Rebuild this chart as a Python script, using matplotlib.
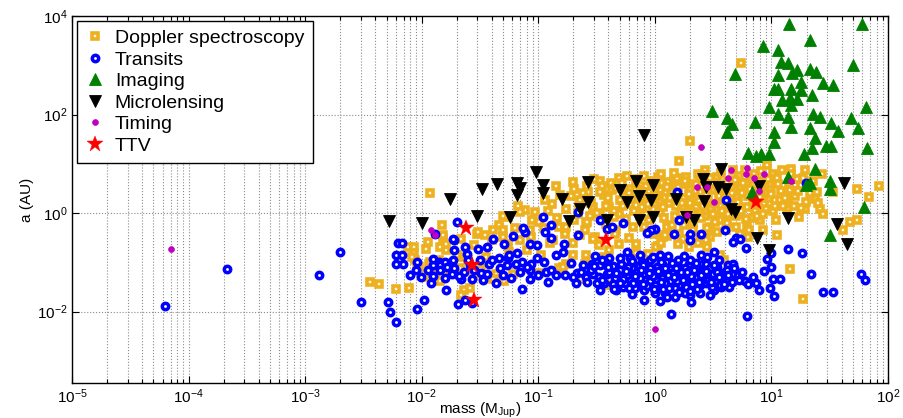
import numpy as np
import matplotlib
matplotlib.use('Agg')
import matplotlib.pyplot as plt
from matplotlib.ticker import FixedLocator, NullLocator

plt.rcParams['font.family'] = ['Liberation Sans', 'DejaVu Sans']
plt.rcParams['mathtext.fontset'] = 'custom'
plt.rcParams['mathtext.rm'] = 'Liberation Sans'
plt.rcParams['mathtext.it'] = 'Liberation Sans:italic'
plt.rcParams['mathtext.bf'] = 'Liberation Sans:bold'

# planets as (log10 mass [M_Jup], log10 semi-major axis [AU])
doppler = [
    (-2.44, -1.40), (-2.37, -1.45), (-2.22, -1.55), (-2.11, -1.53), (-1.93, 0.41),
    (-2.12, -0.69), (-2.07, -0.68), (-2.07, -0.81), (-1.95, -0.59), (-1.96, -0.72),
    (-1.83, -0.25), (-1.82, -0.50), (-1.79, -0.76), (-2.06, -0.96), (-2.04, -1.13),
    (-1.84, -1.37), (-1.94, -1.03), (-2.08, -0.89), (-1.84, -0.68), (-1.79, -0.62),
    (-1.66, -0.52), (-1.67, -0.89), (-1.67, -1.11), (-1.60, -0.96), (-1.53, -0.42),
    (-1.46, -0.45), (-1.30, -0.49), (-1.26, -0.62), (-1.16, -0.55), (-1.10, -0.76),
    (-1.06, -0.49), (-0.99, -1.22), (-0.82, -1.11), (-1.89, -1.20), (-1.76, -1.16),
    (-1.64, -1.57), (-1.59, -1.53), (-1.66, -1.67), (-1.29, -1.37), (-1.36, -1.23),
    (-1.39, -1.33), (-1.22, -1.23), (-1.49, -1.13), (-0.87, -0.55), (-0.76, -1.03),
    (-1.96, -1.30), (-2.02, -1.10), (-1.93, -0.99), (-0.85, 0.55), (-0.81, 0.37),
    (-0.88, 0.19), (-0.92, 0.05), (-1.17, 0.14), (-1.11, 0.07), (-1.16, 0.02),
    (-1.03, 0.02), (-0.99, -0.18), (-0.84, -0.11), (-0.82, -0.28), (-0.77, -0.32),
    (-0.77, -0.42), (-1.27, -0.09), (-1.34, -0.25), (-1.30, -0.35), (-1.52, -0.39),
    (-1.39, -0.35), (-1.07, -0.35), (-1.82, -0.45), (0.30, 1.46), (0.21, 1.05),
    (-0.70, 0.63), (-0.69, 0.49), (-0.57, 0.43), (-0.31, 0.71), (-0.09, 0.76),
    (0.03, 0.73), (0.11, 0.63), (-0.21, 0.49), (-0.44, 0.36), (-0.53, 0.12),
    (-0.64, 0.26), (-0.76, 0.09), (-0.76, -0.28), (-0.59, -0.20), (-0.47, -0.01),
    (-0.31, -0.01), (-0.21, 0.19), (-0.19, -0.28), (-0.33, -0.35), (-0.51, -0.49),
    (0.04, 0.02), (0.10, -0.28), (0.04, 0.46), (0.16, 0.66), (0.27, 0.73),
    (0.30, 0.49), (0.36, 0.32), (0.24, 0.12), (0.39, 0.05), (0.50, -0.01),
    (0.56, -0.15), (0.47, -0.28), (0.33, -0.35), (0.61, 0.09), (0.53, 0.73),
    (0.46, 0.26), (0.70, -0.05), (0.70, 0.32), (0.64, 0.66), (0.67, 0.87),
    (-0.16, 0.60), (-0.04, 0.32), (-0.39, 0.12), (-0.11, 0.12), (0.19, 0.36),
    (-0.09, -0.28), (-0.01, -0.42), (0.07, -0.49), (0.21, -0.42), (0.47, -0.49),
    (0.61, -0.35), (0.73, -0.42), (-0.53, -0.52), (-0.34, -0.42), (-0.31, -0.63),
    (-0.16, -0.62), (-0.16, -0.81), (-0.06, -0.84), (0.03, -0.66), (0.10, -0.47),
    (0.24, -0.52), (0.29, -0.68), (0.37, -0.61), (0.44, -0.55), (0.53, -0.39),
    (0.56, -0.86), (0.59, -0.96), (-0.59, -0.86), (-0.44, -0.89), (-0.44, -1.06),
    (-0.60, -1.03), (-0.39, -0.76), (-0.79, -1.10), (-0.63, -1.33), (-0.41, -1.47),
    (0.96, 0.98), (1.01, 0.79), (1.17, 0.90), (1.17, 0.79), (1.29, 0.87),
    (1.43, 0.79), (1.01, 0.66), (0.99, 0.46), (1.16, 0.46), (1.14, 0.26),
    (1.24, -0.08), (1.13, 0.09), (1.04, -0.15), (1.31, 0.53), (1.39, 0.43),
    (1.37, 0.29), (1.30, 0.22), (1.29, 0.09), (1.42, 0.09), (1.44, -0.01),
    (1.73, 0.49), (1.92, 0.54), (1.84, 0.32), (1.73, -0.15), (1.67, -0.18),
    (1.61, -0.35), (1.53, 0.43), (1.05, -0.45), (0.84, -0.11), (0.79, -0.28),
    (0.81, -0.35), (0.90, -0.15), (0.93, -0.35), (0.70, -0.28), (0.61, -0.08),
    (0.64, 0.19), (0.73, -0.01), (0.79, 0.12), (0.94, 0.19), (0.96, 0.39),
    (0.90, 0.32), (0.84, 0.26), (0.73, 0.53), (0.99, 0.60), (0.79, 0.60),
    (1.01, 0.05), (0.80, -0.49), (1.16, -1.13), (1.27, -1.75), (-1.79, -1.10),
    (-1.30, -0.05), (0.01, -0.69), (0.09, -0.45), (0.39, -0.45), (0.74, 3.04),
    (-0.47, 0.66), (-0.37, 0.46), (-0.26, 0.36), (-0.13, 0.46), (0.00, 0.56),
    (0.09, 0.30), (0.17, 0.56), (0.39, 0.66), (0.43, -0.05), (0.51, 0.46),
    (0.60, 0.46), (0.86, 0.05), (-0.30, 0.26), (-0.56, -0.05), (-0.13, -0.05),
    (0.17, -0.05), (0.30, -0.15), (0.00, 0.16), (0.30, 0.20), (0.56, 0.26),
    (0.43, 0.87), (0.77, 0.87), (-0.69, -0.15), (-0.64, -0.45), (-0.94, 0.26),
    (0.90, 0.66), (1.07, 0.26), (1.20, 0.56),
    (-0.45, 0.55), (-0.40, 0.30), (-0.35, 0.05), (-0.28, 0.62), (-0.22, 0.40),
    (-0.18, 0.05), (-0.12, 0.30), (-0.08, 0.55), (-0.05, -0.15), (0.02, 0.35),
    (0.06, 0.62), (0.08, -0.10), (0.12, 0.20), (0.14, 0.45), (0.19, 0.72),
    (0.22, 0.00), (0.25, 0.30), (0.28, 0.58), (0.33, -0.20), (0.35, 0.12),
    (0.40, 0.42), (0.42, 0.78), (0.45, -0.30), (0.48, 0.10), (0.50, 0.62),
    (0.55, 0.35), (0.58, 0.05), (0.62, -0.20), (0.65, 0.52), (0.68, 0.15),
    (0.72, 0.75), (0.75, 0.40), (0.78, -0.12), (0.82, 0.48), (0.85, 0.80),
    (0.88, -0.05), (0.92, 0.55), (0.95, 0.08), (0.98, 0.30), (1.05, 0.72),
    (1.08, 0.45), (1.10, 0.15), (1.20, 0.35), (1.22, 0.70), (1.25, 0.10),
    (-0.62, 0.40), (-0.55, 0.20), (-0.50, 0.00), (-0.66, -0.02), (-0.42, -0.22),
    (-0.25, -0.12), (-0.02, 0.08), (0.18, 0.15), (0.38, 0.25), (0.62, 0.62),
    (0.15, -0.25), (-0.60, -0.35), (-0.48, -0.65), (-0.22, -0.50), (0.05, -0.60),
    (0.20, -0.62), (0.45, -0.68), (-0.70, -0.60), (-0.95, -0.30), (-1.05, -0.15),
    (-1.20, -0.30), (-1.40, -0.55), (-1.55, -0.65), (-1.70, -0.85), (-1.85, -0.95),
    (-1.45, -0.90), (-1.25, -0.80), (-0.98, -0.85), (-1.15, -1.10), (-1.55, -1.25),
    (-1.92, -1.20), (-0.70, -0.85), (-0.90, -0.60),
    (-0.58, 0.55), (-0.52, 0.70), (-0.47, 0.42), (-0.42, 0.15), (-0.38, 0.62),
    (-0.33, 0.50), (-0.27, 0.15), (-0.24, 0.75), (-0.20, 0.28), (-0.15, 0.70),
    (-0.10, 0.42), (-0.06, 0.18), (-0.03, 0.65), (0.00, 0.36), (0.05, 0.80),
    (0.07, 0.12), (0.10, 0.52), (0.13, 0.30), (0.16, 0.82), (0.20, 0.52),
    (0.23, 0.20), (0.26, 0.65), (0.29, 0.38), (0.32, 0.02), (0.35, 0.58),
    (0.37, 0.80), (0.41, 0.15), (0.44, 0.36), (0.47, 0.72), (0.52, 0.18),
    (0.54, 0.50), (0.57, 0.82), (0.60, 0.32), (0.63, -0.02), (0.66, 0.40),
    (0.69, 0.68), (0.71, 0.22), (0.74, 0.05), (0.76, 0.62), (0.80, 0.35),
    (0.83, 0.70), (0.86, 0.18), (0.89, 0.45), (0.91, 0.85), (0.93, -0.02),
    (0.97, 0.70), (1.00, 0.38), (1.03, 0.15), (1.06, 0.58), (1.09, 0.88),
    (1.12, 0.30), (1.15, 0.62), (1.19, 0.15), (1.23, 0.45), (1.27, 0.72),
    (1.33, 0.40), (1.36, 0.65), (1.40, 0.20), (-0.65, 0.15), (-0.72, 0.35),
    (-0.58, -0.18), (-0.35, -0.08), (-0.08, -0.02), (0.25, -0.25), (0.52, -0.18),
    (0.40, -0.10),
]

transits = [
    (-4.20, -1.89), (-3.67, -1.13), (-2.88, -1.26), (-2.70, -0.79), (-2.52, -1.81),
    (-2.29, -1.81), (-2.27, -2.01), (-2.22, -2.22), (-2.04, -1.94), (-1.98, -1.77),
    (-2.20, -0.61), (-2.17, -0.61), (-2.22, -0.86), (-2.17, -0.86), (-2.22, -1.04),
    (-2.16, -1.04), (-2.04, -0.99), (-2.05, -1.16), (-2.01, -1.30), (-1.92, -1.41),
    (-1.89, -0.42), (-1.90, -1.05), (-1.85, -0.99), (-1.79, -1.57), (-1.90, -1.28),
    (-1.90, -0.94), (-1.84, -1.06), (-1.80, -0.99), (-1.74, -1.23), (-1.72, -0.55),
    (-1.72, -0.74), (-1.73, -0.96), (-1.66, -1.33), (-1.64, -1.20), (-1.63, -0.68),
    (-1.61, -0.84), (-1.57, -1.34), (-1.52, -0.72), (-1.50, -0.96), (-1.49, -1.22),
    (-1.47, -1.35), (-1.44, -0.68), (-1.42, -1.03), (-1.44, -1.23), (-1.39, -0.52),
    (-1.36, -1.43), (-1.34, -0.92), (-1.29, -0.62), (-1.27, -1.06), (-1.26, -0.92),
    (-1.23, -1.31), (-1.22, -0.47), (-1.19, -1.03), (-1.18, -0.82), (-1.14, -0.99),
    (-1.11, -0.39), (-1.07, -0.62), (-1.07, -1.16), (-1.07, -1.33), (-1.06, -1.03),
    (-1.01, -0.92), (-0.94, -0.39), (-0.93, -1.20), (-0.92, -1.40), (-0.89, -1.15),
    (-0.85, -1.26), (-0.85, -0.86), (-0.79, -0.79), (-0.78, -0.63), (-1.69, -1.85),
    (-1.63, -1.77), (-1.57, -1.83), (-1.14, -1.55), (-1.70, -0.18), (-1.73, -0.52),
    (-1.13, -0.30), (-0.96, -0.09), (-0.89, -0.24), (-0.89, -0.50), (0.19, 0.43),
    (0.61, 0.27), (-0.66, 0.02), (-0.47, -0.15), (-0.27, -0.20), (-0.41, -0.32),
    (-0.37, -0.28), (0.00, -0.32), (-0.03, -0.34), (-0.07, -0.40), (0.21, -0.15),
    (0.60, -0.34), (0.16, -0.42), (0.30, -0.42), (0.40, -0.43), (-0.66, -0.45),
    (0.70, -0.50), (-0.72, -1.01), (-0.77, -1.26), (-0.68, -1.42), (-0.51, -0.88),
    (-0.54, -1.03), (-0.24, -0.79), (-0.36, -1.08), (-0.29, -1.03), (-0.21, -1.06),
    (-0.14, -1.08), (0.11, -0.88), (0.20, -0.96), (0.20, -1.08), (0.29, -1.03),
    (0.36, -1.10), (0.43, -0.96), (0.51, -0.79), (0.53, -1.10), (0.63, -1.05),
    (0.60, -1.20), (0.70, -1.26), (0.64, -1.50), (0.51, -1.57), (0.31, -1.81),
    (0.17, -1.70), (0.04, -1.79), (-0.09, -1.76), (0.14, -2.05), (-0.33, -1.57),
    (-0.44, -1.43), (-0.27, -1.50), (-0.67, -1.22), (-0.59, -1.30), (-0.50, -1.43),
    (-0.31, -1.37), (-0.16, -1.40), (-0.04, -1.37), (0.04, -1.50), (0.21, -1.47),
    (0.33, -1.53), (0.39, -1.63), (0.44, -1.43), (0.53, -1.37), (-0.09, -1.23),
    (0.01, -1.23), (0.10, -1.20), (0.24, -1.23), (0.36, -1.30), (-0.24, -1.26),
    (-0.41, -1.23), (-0.53, -1.23), (-0.60, -1.13), (0.30, -0.55), (0.67, -0.59),
    (0.50, -1.23), (0.44, -1.03), (0.67, -1.03), (-0.11, -0.99), (0.06, -1.03),
    (0.13, -1.10), (0.73, -0.52), (1.30, 0.60), (0.78, -0.70), (0.57, -1.26),
    (0.61, -1.33), (0.77, -1.37), (0.57, -1.51), (0.87, -1.43), (0.89, -1.57),
    (0.96, -0.94), (1.00, -0.82), (1.00, -1.10), (0.94, -1.18), (1.01, -1.33),
    (1.07, -1.34), (0.99, -1.53), (1.02, -1.69), (1.14, -0.72), (1.26, -0.81),
    (1.34, -1.24), (1.44, -1.60), (1.53, -1.61), (1.77, -1.23), (1.80, -1.35),
    (0.79, -2.08), (-1.01, -0.64), (0.66, -1.23),
    (-0.47, -1.06), (-0.39, -1.20), (-0.30, -1.16), (-0.20, -1.12), (-0.13, -1.32),
    (-0.04, -1.12), (0.00, -1.47), (0.06, -1.32), (0.13, -1.37), (0.17, -1.53),
    (0.26, -1.12), (0.30, -1.37), (0.34, -1.16), (0.43, -1.26), (0.47, -1.12),
    (0.56, -1.47), (-0.34, -1.32), (-0.26, -1.43), (-0.17, -1.53), (-0.09, -1.57),
    (0.00, -1.63), (0.09, -1.63), (0.26, -1.63), (0.39, -1.47), (0.47, -1.67),
    (0.30, -1.67), (-0.21, -0.92), (-0.04, -0.96), (0.04, -0.86), (-0.13, -0.86),
    (-0.30, -0.92), (-0.39, -0.92), (0.09, -1.43), (-0.47, -1.57),
    (-1.84, -1.16), (-1.80, -1.32), (-1.72, -1.12), (-1.59, -1.06), (-1.33, -1.12),
    (-1.16, -1.20),
    (-0.55, -1.15), (-0.48, -1.30), (-0.43, -1.00), (-0.36, -1.45), (-0.33, -1.22),
    (-0.27, -1.33), (-0.23, -1.10), (-0.19, -1.42), (-0.15, -1.20), (-0.10, -1.05),
    (-0.07, -1.48), (-0.02, -1.28), (0.02, -1.10), (0.07, -1.55), (0.11, -1.25),
    (0.15, -1.02), (0.19, -1.38), (0.22, -1.20), (0.27, -1.50), (0.31, -1.28),
    (0.35, -1.02), (0.38, -1.40), (0.42, -1.15), (0.46, -1.35), (0.49, -1.50),
    (0.53, -1.20), (0.58, -1.33), (0.62, -1.15), (0.66, -1.40), (0.55, -0.95),
    (0.40, -0.85), (0.25, -0.88), (-0.02, -0.90), (-0.20, -0.98), (-0.45, -0.95),
    (-0.62, -1.05), (-0.70, -1.30), (0.10, -1.70), (-0.20, -1.65), (0.30, -1.58),
    (-1.60, -0.95), (-1.55, -1.15), (-1.40, -0.95), (-1.30, -1.25), (-1.25, -0.85),
    (-1.10, -1.10), (-1.00, -1.25), (-0.95, -1.00), (-1.78, -1.10), (-1.68, -1.28),
    (-1.95, -1.15), (-2.10, -1.25),
    (-0.52, -1.08), (-0.45, -1.35), (-0.40, -1.10), (-0.35, -1.55), (-0.30, -1.42),
    (-0.25, -1.18), (-0.22, -1.52), (-0.17, -1.28), (-0.12, -1.15), (-0.10, -1.45),
    (-0.05, -1.22), (-0.01, -1.55), (0.03, -1.18), (0.05, -1.40), (0.09, -1.12),
    (0.12, -1.52), (0.16, -1.30), (0.18, -1.12), (0.21, -1.60), (0.24, -1.35),
    (0.28, -1.20), (0.32, -1.45), (0.36, -1.55), (0.40, -1.25), (0.44, -1.18),
    (0.48, -1.40), (0.51, -1.05), (0.55, -1.30), (0.59, -1.45), (0.63, -1.25),
    (0.68, -1.12), (0.72, -1.35), (0.75, -1.20), (0.80, -1.45), (0.84, -1.30),
    (-0.58, -1.40), (-0.63, -1.20), (0.05, -1.00), (0.30, -0.95), (0.45, -0.90),
]

imaging = [
    (1.15, 3.84), (1.78, 3.83), (0.93, 3.40), (1.33, 3.52), (1.06, 3.30),
    (0.69, 2.83), (1.08, 3.06), (1.14, 3.04), (1.06, 2.81), (1.18, 2.84),
    (1.22, 2.91), (1.33, 2.93), (1.38, 2.86), (1.70, 3.00), (1.25, 2.66),
    (1.44, 2.64), (1.53, 2.60), (1.02, 2.52), (1.06, 2.52), (1.17, 2.52),
    (1.25, 2.50), (1.09, 2.30), (1.16, 2.34), (1.22, 2.32), (1.35, 2.39),
    (1.17, 2.19), (0.98, 2.15), (1.81, 2.15), (0.49, 2.07), (1.06, 2.02),
    (1.14, 1.94), (1.36, 2.02), (1.42, 1.95), (0.62, 1.92), (0.66, 1.80),
    (0.62, 1.64), (0.86, 1.85), (1.17, 1.74), (1.33, 1.72), (1.51, 1.83),
    (1.57, 1.66), (1.68, 1.92), (1.74, 1.72), (1.02, 1.64), (1.02, 1.44),
    (1.37, 1.52), (1.35, 1.32), (1.47, 1.37), (1.51, 1.37), (1.82, 1.32),
    (1.28, 1.19), (0.80, 1.21), (0.87, 1.15), (0.91, 1.19), (0.98, 1.19),
    (1.37, 0.90), (1.14, 0.73), (1.50, 0.66), (1.50, 0.48), (0.83, 0.43),
    (1.33, 0.60), (1.79, 0.12), (1.50, -0.45), (1.30, 0.56),
]

microlensing = [
    (-2.28, -0.17), (-2.00, -0.20), (-1.76, 0.29), (-1.53, -0.05), (-1.48, 0.48),
    (-1.35, 0.58), (-1.18, 0.61), (-1.16, 0.51), (-1.18, 0.36), (-1.02, 0.83),
    (-0.96, 0.57), (-0.96, 0.41), (-0.80, 0.28), (-1.24, -0.09), (-0.74, -0.16),
    (-0.64, 0.09), (-0.57, 0.63), (-0.57, 0.23), (-0.41, -0.15), (-0.30, 0.46),
    (-0.24, 0.22), (-0.16, 0.65), (-0.14, 0.34), (-0.14, -0.15), (-0.03, 0.26),
    (-0.02, -0.09), (-0.09, 1.58), (-0.02, 0.56), (0.18, 0.28), (0.27, -0.09),
    (0.34, -0.15), (0.41, 0.69), (0.42, 0.24), (0.44, 0.52), (0.54, 0.52),
    (0.57, 0.90), (0.61, 0.49), (0.65, 0.08), (0.69, 0.03), (0.88, -0.50),
    (0.89, 0.55), (0.98, -0.74), (1.14, -0.11), (1.56, -0.23), (1.62, 0.61),
    (1.65, -0.63),
]

timing = [
    (-4.15, -0.72), (-1.92, -0.34), (-1.89, -0.45), (0.40, 1.35), (0.36, 0.53),
    (0.45, 0.53), (0.51, 0.22), (0.28, -0.03), (0.65, 0.87), (0.79, 0.91),
    (0.63, 0.72), (0.78, 0.79), (0.85, 0.72), (0.94, 0.79), (0.89, 0.45),
    (1.17, 0.66), (0.00, -2.35),
]

ttv = [
    (-1.62, -0.30), (-1.57, -1.06), (-1.55, -1.76), (-0.42, -0.55), (0.87, 0.22),
]

x_decades = [1e-5, 1e-4, 1e-3, 1e-2, 1e-1, 1e0, 1e1, 1e2]
y_ticks = [1e-2, 1e0, 1e2, 1e4]

series = [
    ('Doppler spectroscopy', doppler, dict(marker='s', ms=4.1, mfc='#FFF6E0', mec='#EDB120', mew=2.6)),
    ('Transits', transits, dict(marker='o', ms=4.6, mfc='white', mec='#0000FF', mew=2.5)),
    ('Imaging', imaging, dict(marker='^', ms=8.0, mfc='#008000', mec='#008000', mew=0.6)),
    ('Microlensing', microlensing, dict(marker='v', ms=8.4, mfc='black', mec='black', mew=0.6)),
    ('Timing', timing, dict(marker='o', ms=4.2, mfc='#C000C0', mec='#C000C0', mew=0.5)),
    ('TTV', ttv, dict(marker='*', ms=12, mfc='red', mec='red', mew=0.3)),
]

fig = plt.figure(figsize=(9.04, 4.18), dpi=100)
ax = fig.add_axes([72 / 904, 35 / 418, 816 / 904, 367 / 418])

for name, pts, style in series:
    p = np.array(pts)
    ax.plot(10 ** p[:, 0], 10 ** p[:, 1], linestyle='none', label=name, **style)

ax.set_xscale('log')
ax.set_yscale('log')
ax.set_xlim(1e-5, 1e2)
ax.set_ylim(10 ** -3.45, 1e4)

ax.set_xticks(x_decades)
minor_x = [d * k for d in x_decades[:-1] for k in range(2, 10)]
ax.xaxis.set_minor_locator(FixedLocator(minor_x))
ax.set_yticks(y_ticks)
ax.yaxis.set_minor_locator(NullLocator())

ax.grid(True, which='major', linestyle=':', color='#8c8c8c', linewidth=0.8)
ax.grid(True, which='minor', axis='x', linestyle=':', color='#8c8c8c', linewidth=0.8)
ax.set_axisbelow(True)

ax.tick_params(which='both', direction='in', top=True, right=True, width=0.8)
ax.tick_params(which='major', length=5, labelsize=11, pad=3)
ax.tick_params(which='minor', length=3)
for s in ax.spines.values():
    s.set_linewidth(1.0)

ax.set_xlabel(r'mass (M$_{\mathrm{Jup}}$)', fontsize=11, labelpad=-4)
ax.set_ylabel('a (AU)', fontsize=11, labelpad=2)

leg = ax.legend(loc='upper left', fontsize=14, frameon=True, fancybox=False,
                edgecolor='black', framealpha=1, borderaxespad=0.25,
                labelspacing=0.2, handlelength=1.0, handletextpad=0.5,
                borderpad=0.45, numpoints=1)
leg.get_frame().set_linewidth(1.0)

fig.savefig('out.png', dpi=100)
